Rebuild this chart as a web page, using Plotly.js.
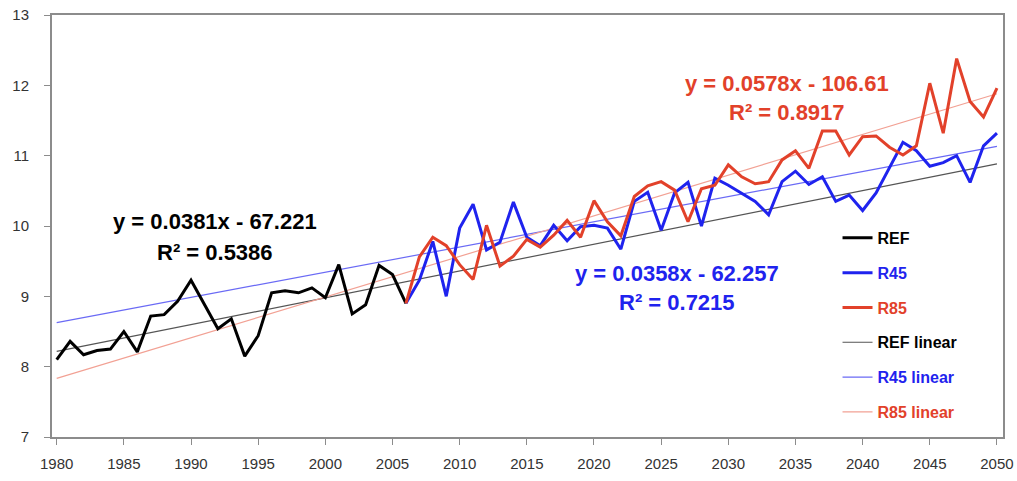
<!DOCTYPE html>
<html>
<head>
<meta charset="utf-8">
<script src="https://cdn.plot.ly/plotly-3.0.1.min.js"></script>
<style>html,body{margin:0;padding:0;background:#fff;}#chart{width:1017px;height:481px;}</style>
</head>
<body>
<div id="chart"></div>
<script>
// Historical reference series (1980-2006)
const refYears = [1980,1981,1982,1983,1984,1985,1986,1987,1988,1989,1990,1991,1992,1993,1994,1995,1996,1997,1998,1999,2000,2001,2002,2003,2004,2005,2006];
const refValues = [8.10,8.36,8.17,8.23,8.25,8.50,8.21,8.72,8.74,8.93,9.23,8.88,8.54,8.68,8.15,8.44,9.05,9.08,9.05,9.12,8.98,9.45,8.75,8.88,9.44,9.31,8.90];

// Scenario years (2006-2050)
const scenYears = [2006,2007,2008,2009,2010,2011,2012,2013,2014,2015,2016,2017,2018,2019,2020,2021,2022,2023,2024,2025,2026,2027,2028,2029,2030,2031,2032,2033,2034,2035,2036,2037,2038,2039,2040,2041,2042,2043,2044,2045,2046,2047,2048,2049,2050];
const r45Values = [8.90,9.23,9.78,9.00,9.97,10.31,9.66,9.77,10.34,9.84,9.72,10.01,9.79,9.99,10.01,9.97,9.67,10.35,10.48,9.94,10.47,10.62,10.00,10.68,10.58,10.47,10.35,10.16,10.63,10.78,10.59,10.70,10.35,10.44,10.22,10.47,10.84,11.19,11.07,10.85,10.90,11.00,10.62,11.14,11.32];
const r85Values = [8.90,9.56,9.84,9.72,9.45,9.24,10.01,9.43,9.57,9.81,9.70,9.87,10.08,9.84,10.36,10.06,9.86,10.42,10.57,10.63,10.51,10.06,10.53,10.58,10.87,10.70,10.60,10.63,10.94,11.07,10.82,11.35,11.35,11.01,11.27,11.28,11.12,11.01,11.14,12.03,11.32,12.38,11.77,11.55,11.96];

// Trendline equations shown on the chart
const trendNames = ['REF linear','R45 linear','R85 linear'];
const trendSlopes = [0.0381, 0.0358, 0.0578];
const trendIntercepts = [-67.221, -62.257, -106.61];
const trendInterceptText = ['67.221','62.257','106.61'];
const trendR2 = ['0.5386','0.7215','0.8917'];
const trendSpan = [1980, 2050];

const xTicks = [1980,1985,1990,1995,2000,2005,2010,2015,2020,2025,2030,2035,2040,2045,2050];
const yTicks = [7,8,9,10,11,12,13];

const cBlack = '#000000', cBlue = '#1f23ee', cRed = '#e2412a';
const trendColors = ['#555555', '#6a6af5', '#f2a194'];
const textColors = [cBlack, cBlue, cRed];

function lbl(t, c){ return '<span style="color:' + c + '">' + t + '</span>'; }

const traces = [
  {x: refYears, y: refValues, name: lbl('REF', cBlack), line:{color:cBlack,width:3}},
  {x: scenYears, y: r45Values, name: lbl('R45', cBlue), line:{color:cBlue,width:3}},
  {x: scenYears, y: r85Values, name: lbl('R85', cRed), line:{color:cRed,width:3}}
];
for (let i=0;i<3;i++){
  traces.push({
    x: trendSpan,
    y: trendSpan.map(v => trendSlopes[i]*v + trendIntercepts[i]),
    name: lbl(trendNames[i], textColors[i]),
    line:{color:trendColors[i], width:1.2}
  });
}
// draw trend lines beneath the series, keep legend order
const order = [3,4,5,0,1,2];
const data = order.map(k => Object.assign({type:'scatter', mode:'lines', legendgroup:'g'+k, legendrank: k+1, hoverinfo:'skip'}, traces[k]));

function eq(i){ return 'y = ' + trendSlopes[i].toFixed(4) + 'x - ' + trendInterceptText[i]; }

const annFont = (c) => ({family:'Liberation Sans, Arial, sans-serif', size:22, color:c, weight:700});
const annPos = [[1991.8, 10.06, 9.63],[2026.2, 9.33, 8.91],[2034.4, 12.02, 11.61]];
const annotations = [];
for (let i=0;i<3;i++){
  annotations.push({x:annPos[i][0], y:annPos[i][1], xref:'x', yref:'y', text:'<b>'+eq(i)+'</b>', showarrow:false, font:annFont(textColors[i])});
  annotations.push({x:annPos[i][0], y:annPos[i][2], xref:'x', yref:'y', text:'<b>R² = '+trendR2[i]+'</b>', showarrow:false, font:annFont(textColors[i])});
}

const layout = {
  width:1017, height:481,
  margin:{l:52, r:14, t:15, b:44},
  paper_bgcolor:'#ffffff', plot_bgcolor:'#ffffff',
  font:{family:'Liberation Sans, Arial, sans-serif', color:'#333'},
  showlegend:true,
  legend:{x:0.826, y:0.512, xanchor:'left', yanchor:'top', bgcolor:'rgba(0,0,0,0)', borderwidth:0,
          font:{size:16, weight:700, family:'Liberation Sans, Arial, sans-serif'}, tracegroupgap:11, itemwidth:30},
  xaxis:{range:[1979.65, 2050.45], tickvals:xTicks, ticks:'outside', ticklen:6, tickcolor:'#8c8c8c',
         showline:true, linecolor:'#8c8c8c', linewidth:2, mirror:true, showgrid:false, zeroline:false,
         tickfont:{size:15, color:'#333'}, ticklabelstandoff:6},
  yaxis:{range:[7,13], tickvals:yTicks, ticks:'outside', ticklen:6, tickcolor:'#8c8c8c',
         showline:true, linecolor:'#8c8c8c', linewidth:2, mirror:true, showgrid:false, zeroline:false,
         tickfont:{size:15, color:'#333'}, ticklabelstandoff:12},
  annotations: annotations
};

Plotly.newPlot('chart', data, layout, {displayModeBar:false, staticPlot:true});
</script>
</body>
</html>
